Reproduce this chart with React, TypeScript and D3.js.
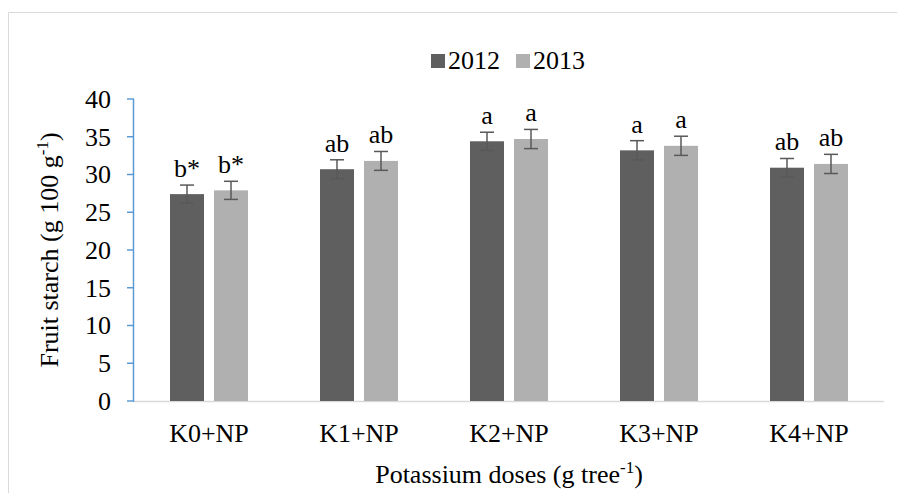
import React from "react";
import * as d3 from "d3";

const categories = ["K0+NP", "K1+NP", "K2+NP", "K3+NP", "K4+NP"];
const seriesNames = ["2012", "2013"];
const values2012 = [27.4, 30.7, 34.4, 33.2, 30.9];
const values2013 = [27.9, 31.8, 34.7, 33.8, 31.4];
const errors2012 = [1.2, 1.25, 1.2, 1.28, 1.22];
const errors2013 = [1.2, 1.25, 1.27, 1.27, 1.27];
const letters2012 = ["b*", "ab", "a", "a", "ab"];
const letters2013 = ["b*", "ab", "a", "a", "ab"];
const yTicks = [0, 5, 10, 15, 20, 25, 30, 35, 40];
const colors = ["#5f5f5f", "#b0b0b0"];

const W = 897;
const H = 493;
const FS = 26;

export default function App() {
  const left = 134, right = 884, top = 99, bottom = 401;
  const x = d3.scaleBand<string>().domain(categories).range([left, right]).padding(0);
  const y = d3.scaleLinear().domain([0, 40]).range([bottom, top]);
  const barW = 34;
  const gap = 10;
  const series = [
    { name: seriesNames[0], vals: values2012, errs: errors2012, letters: letters2012 },
    { name: seriesNames[1], vals: values2013, errs: errors2013, letters: letters2013 },
  ];
  const center = (c: string) => (x(c) as number) + x.bandwidth() / 2;
  const barX = (c: string, si: number) =>
    si === 0 ? center(c) - gap / 2 - barW : center(c) + gap / 2;

  return (
    <>
      <style>{`body{margin:0} svg text{font-family:"Liberation Serif","Times New Roman",serif;}`}</style>
      <svg width={W} height={H} style={{ display: "block", background: "#fff" }}>
        <line x1={8.5} y1={12.5} x2={W} y2={12.5} stroke="#d9d9d9" strokeWidth={1} />
        <line x1={8.5} y1={12.5} x2={8.5} y2={H} stroke="#d9d9d9" strokeWidth={1} />

        {/* legend */}
        <g>
          <rect x={431} y={54} width={14} height={14} fill={colors[0]} />
          <text x={448} y={68.5} fontSize={FS} fill="#000">{seriesNames[0]}</text>
          <rect x={516} y={54} width={14} height={14} fill={colors[1]} />
          <text x={533} y={68.5} fontSize={FS} fill="#000">{seriesNames[1]}</text>
        </g>

        {/* x axis line */}
        <line x1={left} x2={right} y1={bottom + 0.5} y2={bottom + 0.5} stroke="#d9d9d9" strokeWidth={1.5} />

        {/* bars */}
        {series.map((s, si) =>
          categories.map((c, i) => {
            const bx = barX(c, si);
            const v = s.vals[i];
            const e = s.errs[i];
            const cx = bx + barW / 2;
            return (
              <g key={`${si}-${i}`}>
                <rect x={bx} y={y(v)} width={barW} height={bottom - y(v)} fill={colors[si]} />
                <g stroke="#595959" strokeWidth={1.5}>
                  <line x1={cx} x2={cx} y1={y(v + e)} y2={y(v - e)} />
                  <line x1={cx - 7} x2={cx + 7} y1={y(v + e)} y2={y(v + e)} />
                  <line x1={cx - 7} x2={cx + 7} y1={y(v - e)} y2={y(v - e)} />
                </g>
                <text x={cx} y={y(v + e) - 8} fontSize={FS} textAnchor="middle" fill="#000">
                  {s.letters[i]}
                </text>
              </g>
            );
          })
        )}

        {/* y axis */}
        <line x1={left - 0.5} x2={left - 0.5} y1={top} y2={bottom + 1} stroke="#5b9bd5" strokeWidth={1.5} />
        {yTicks.map((t) => (
          <g key={t}>
            <line x1={left - 7} x2={left} y1={y(t)} y2={y(t)} stroke="#5b9bd5" strokeWidth={1.5} />
            <text x={left - 23} y={y(t)} dy="0.34em" fontSize={FS} textAnchor="end" fill="#000">
              {t}
            </text>
          </g>
        ))}

        {/* x labels */}
        {categories.map((c) => (
          <text key={c} x={center(c)} y={442} fontSize={FS} textAnchor="middle" fill="#000">
            {c}
          </text>
        ))}

        {/* axis titles */}
        <text x={(left + right) / 2} y={483} fontSize={FS} textAnchor="middle" fill="#000">
          Potassium doses (g tree
          <tspan fontSize={17} dy={-10}>-1</tspan>
          <tspan dy={10}>)</tspan>
        </text>
        <text
          transform={`translate(58, ${(top + bottom) / 2}) rotate(-90)`}
          fontSize={FS}
          textAnchor="middle"
          fill="#000"
        >
          Fruit starch (g 100 g
          <tspan fontSize={17} dy={-10}>-1</tspan>
          <tspan dy={10}>)</tspan>
        </text>
      </svg>
    </>
  );
}
